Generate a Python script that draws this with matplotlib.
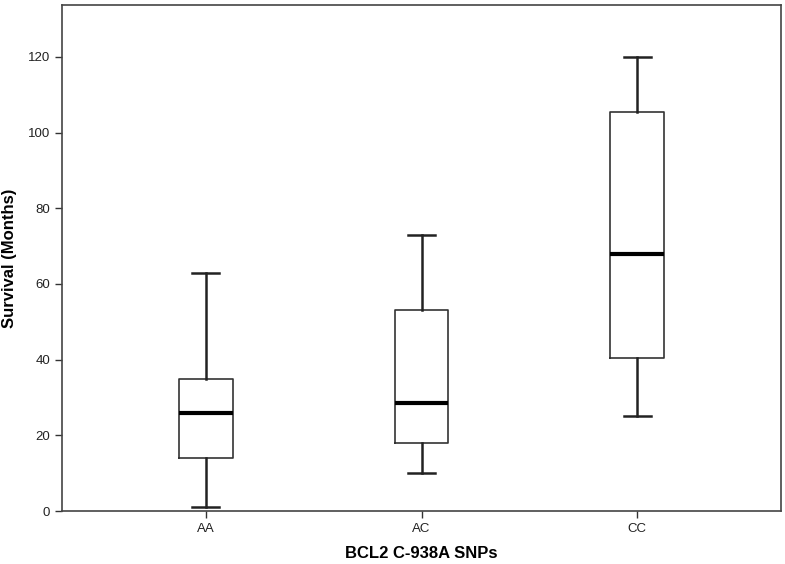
import matplotlib
matplotlib.use("Agg")
import matplotlib.pyplot as plt

plt.rcParams['font.family'] = ['Liberation Sans', 'DejaVu Sans']

categories = ["AA", "AC", "CC"]
whisker_low = [1, 10, 25]
q1 = [14, 18, 40.5]
median = [26, 28.5, 68]
q3 = [35, 53, 105.5]
whisker_high = [63, 73, 120]
y_ticks = [0, 20, 40, 60, 80, 100, 120]

stats = []
for i, c in enumerate(categories):
    stats.append(dict(label=c, whislo=whisker_low[i], q1=q1[i], med=median[i],
                      q3=q3[i], whishi=whisker_high[i], fliers=[]))

fig = plt.figure(figsize=(7.85, 5.64), dpi=100)
ax = fig.add_axes([62/785, 53/564, (781-62)/785, (511-5)/564])

ax.bxp(stats, positions=[1, 2, 3], widths=0.25, showfliers=False,
       boxprops=dict(color='#333333', linewidth=1.2),
       whiskerprops=dict(color='#222222', linewidth=1.8),
       capprops=dict(color='#222222', linewidth=1.8),
       medianprops=dict(color='black', linewidth=3),
       capwidths=0.125)

ax.set_xlim(0.333, 3.667)
ax.set_ylim(0, 133.7)
ax.set_yticks(y_ticks)
ax.set_xticks([1, 2, 3])
ax.set_xticklabels(categories)
ax.tick_params(axis='both', direction='out', length=5, width=1, labelsize=9.5,
               colors='#333333', labelcolor='#222222')
for s in ax.spines.values():
    s.set_color('#444444')
    s.set_linewidth(1.2)

ax.set_xlabel("BCL2 C-938A SNPs", fontsize=12, fontweight='bold', labelpad=8)
ax.set_ylabel("Survival (Months)", fontsize=12, fontweight='bold', labelpad=8)

fig.savefig("out.png", dpi=100)
